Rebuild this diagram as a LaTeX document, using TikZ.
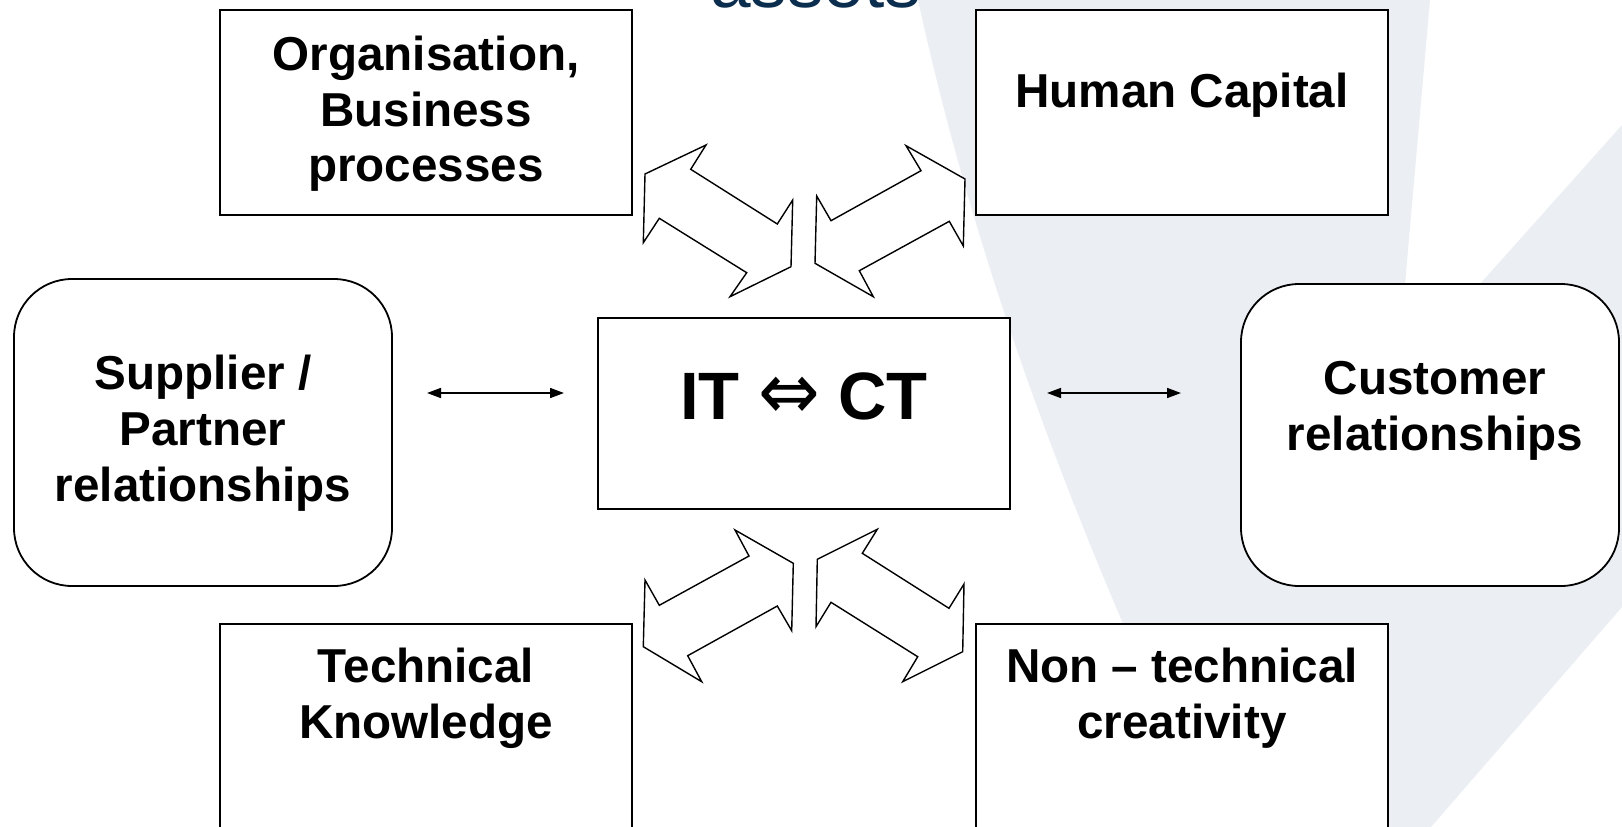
\documentclass[tikz,border=0pt]{standalone}
\usepackage{fontspec}
\setmainfont{Liberation Sans}
\newfontfamily\arrowfont{DejaVu Sans}
\usetikzlibrary{arrows.meta}
\definecolor{swoosh}{HTML}{EBEFF4}
\definecolor{titleblue}{HTML}{0B2D4E}
\begin{document}
\begin{tikzpicture}[x=1pt,y=-1pt,
  box/.style={draw=black, line width=1.8pt, fill=white, inner sep=0pt},
  lbl/.style={anchor=base, inner sep=0pt, font=\fontsize{47.6}{56}\selectfont\bfseries},
  blockarrow/.style={draw=black, fill=white, line width=1.4pt, line join=miter},
  link/.style={line width=1.6pt, {Triangle[length=14pt,width=10pt]}-{Triangle[length=14pt,width=10pt]}}
]
\useasboundingbox (0,0) rectangle (1622,827);
\clip (0,0) rectangle (1622,827);
\fill[white] (0,0) rectangle (1622,827);

% faint background swoosh
\fill[swoosh] (918,0) -- (1430,0) -- (1405,284) -- (1480,284) -- (1622,125)
  -- (1622,607) -- (1431,827) -- (1213,827)
  .. controls (1110,600) and (990,330) .. (918,0) -- cycle;

% heading, mostly above the visible area
\node[anchor=base west, inner sep=0pt, text=titleblue,
      font=\fontsize{73}{80}\selectfont] (title) at (710,7) {assets};

% boxes
\node[box, minimum width=412pt, minimum height=205pt] (org) at (426,112.5) {};
\node[box, minimum width=412pt, minimum height=205pt] (hum) at (1182,112.5) {};
\node[box, rounded corners=58pt, minimum width=378pt, minimum height=307pt] (sup) at (203,432.5) {};
\node[box, minimum width=412pt, minimum height=191pt] (itct) at (804,413.5) {};
\node[box, rounded corners=58pt, minimum width=378pt, minimum height=302pt] (cust) at (1430,435) {};
\node[box, minimum width=412pt, minimum height=226pt] (tech) at (426,737) {};
\node[box, minimum width=412pt, minimum height=226pt] (nont) at (1182,737) {};

% labels
\node[lbl] (orgA) at (426,70) {Organisation,};
\node[lbl] (orgB) at (426,126) {Business};
\node[lbl] (orgC) at (426,181) {processes};
\node[lbl] (humA) at (1182,107) {Human Capital};
\node[lbl] (supA) at (203,389) {Supplier /};
\node[lbl] (supB) at (203,445) {Partner};
\node[lbl] (supC) at (203,501) {relationships};
\node[lbl] (custA) at (1435,394) {Customer};
\node[lbl] (custB) at (1435,450) {relationships};
\node[lbl] (techA) at (426,682) {Technical};
\node[lbl] (techB) at (426,738) {Knowledge};
\node[lbl] (nonA) at (1182,682) {Non – technical};
\node[lbl] (nonB) at (1182,738) {creativity};
\node[anchor=base, inner sep=0pt, font=\fontsize{67}{80}\selectfont\bfseries]
  (itctlbl) at (804,419) {IT {\arrowfont\mdseries\scalebox{1.1}[1.2]{⇔}} CT};

% thin two-way links
\coordinate (lA) at (427,393);
\coordinate (lB) at (564,393);
\coordinate (rA) at (1047,393);
\coordinate (rB) at (1181,393);
\draw[link] (lA) -- (lB);
\draw[link] (rA) -- (rB);

% hollow two-way block arrows
\draw[blockarrow] (706.0,145.0) -- (690.7,169.3) -- (777.3,224.0) -- (792.7,200.0)
  -- (791.0,266.7) -- (730.0,296.7) -- (746.7,272.7) -- (659.3,218.3)
  -- (643.3,242.7) -- (645.0,174.0) -- cycle;
\draw[blockarrow] (906.0,145.7) -- (921.0,170.7) -- (831.0,220.7) -- (816.7,196.0)
  -- (815.0,263.3) -- (873.3,296.7) -- (859.3,270.7) -- (949.3,221.3)
  -- (963.3,246.0) -- (965.0,179.0) -- cycle;
\draw[blockarrow] (735.0,530.0) -- (749.0,556.0) -- (659.3,605.3) -- (645.0,580.0)
  -- (643.3,646.7) -- (701.7,681.7) -- (687.7,655.7) -- (777.3,606.0)
  -- (791.7,630.7) -- (793.3,563.3) -- cycle;
\draw[blockarrow] (877.3,529.3) -- (862.3,553.3) -- (949.0,608.3) -- (964.0,584.0)
  -- (962.7,651.7) -- (902.7,681.7) -- (917.7,656.7) -- (831.0,602.3)
  -- (816.0,626.7) -- (817.3,559.3) -- cycle;
\end{tikzpicture}
\end{document}
